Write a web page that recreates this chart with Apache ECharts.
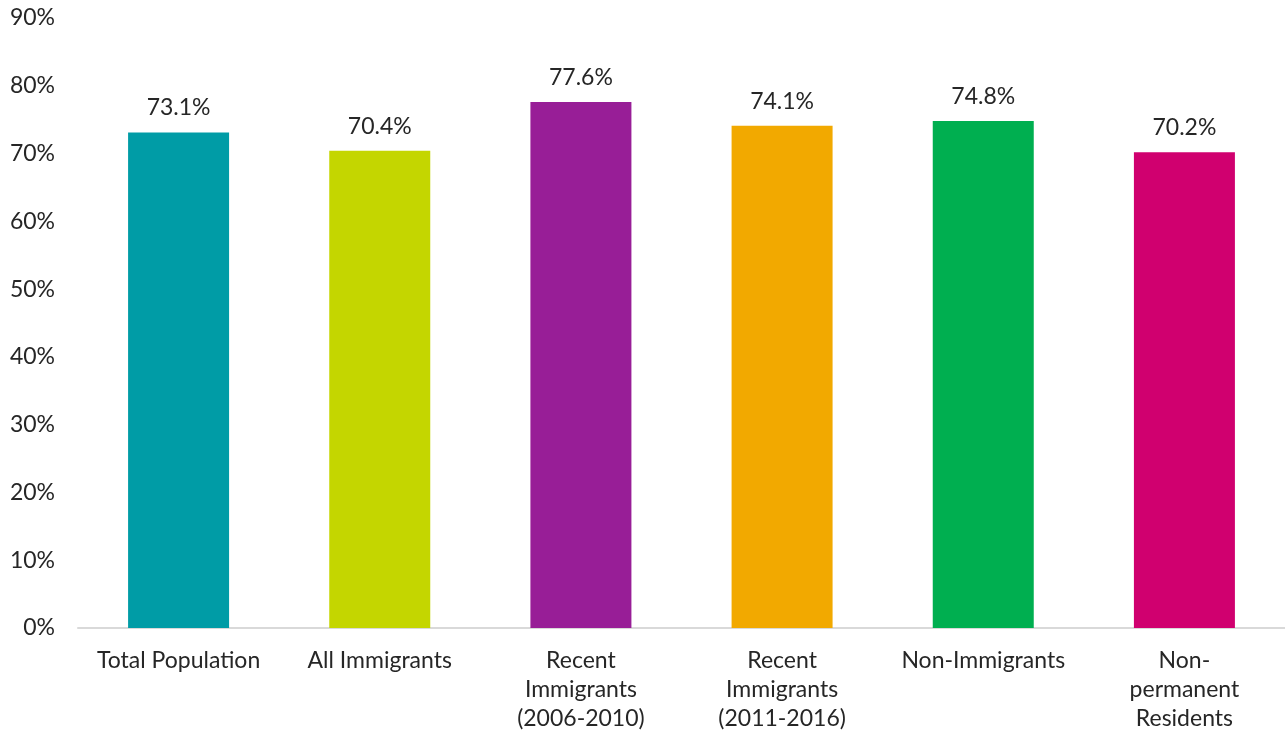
<!DOCTYPE html>
<html><head><meta charset="utf-8">
<script src="https://cdn.jsdelivr.net/npm/echarts@6/dist/echarts.min.js"></script>
<style>html,body{margin:0;padding:0;background:#fff}#c{width:1285px;height:734px}</style>
</head><body><div id="c"></div>
<script>
const categories = ["Total Population","All Immigrants","Recent\nImmigrants\n(2006-2010)","Recent\nImmigrants\n(2011-2016)","Non-Immigrants","Non-\npermanent\nResidents"];
const values = [73.1, 70.4, 77.6, 74.1, 74.8, 70.2];
const colors = ["#009CA6","#C4D600","#981E97","#F2A900","#00AF50","#D0006F"];
const FONT = "Lato";
const chart = echarts.init(document.getElementById('c'));
chart.setOption({
  animation:false,
  grid:{left:78,right:0,top:18,bottom:106,containLabel:false},
  xAxis:{type:'category',data:categories,
    axisLine:{lineStyle:{color:'#d9d9d9',width:2}},axisTick:{show:false},
    axisLabel:{color:'#262626',fontSize:23,fontFamily:FONT,lineHeight:29,margin:18,interval:0}},
  yAxis:{type:'value',min:0,max:90,interval:10,
    splitLine:{show:false},axisLine:{show:false},axisTick:{show:false},
    axisLabel:{formatter:'{value}%',color:'#262626',fontSize:23,fontFamily:FONT,margin:23}},
  series:[{type:'bar',barWidth:101,
    data:values.map((v,i)=>({value:v,itemStyle:{color:colors[i]}})),
    label:{show:true,position:'top',distance:13,formatter:p=>p.value.toFixed(1)+'%',color:'#262626',fontSize:23,fontFamily:FONT}}]
});
</script></body></html>
